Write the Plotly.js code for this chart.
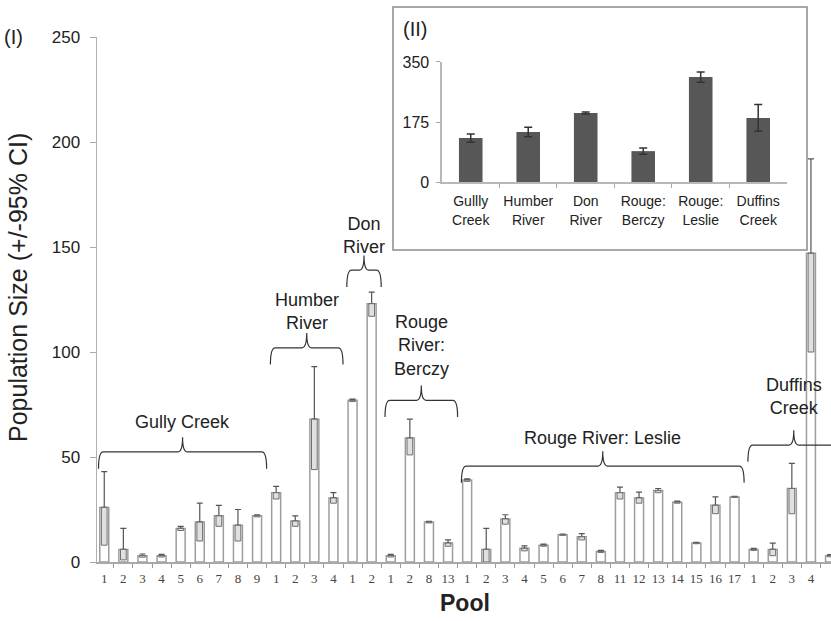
<!DOCTYPE html>
<html>
<head>
<meta charset="utf-8">
<script src="https://cdn.plot.ly/plotly-3.0.1.min.js"></script>
<style>html,body{margin:0;padding:0;background:#fff;}#chart{width:831px;height:621px;}</style>
</head>
<body>
<div id="chart"></div>
<script>
// ---- data ----
const poolLabels = ['1','2','3','4','5','6','7','8','9','1','2','3','4','1','2','1','2','8','13',
  '1','2','3','4','5','6','7','8','11','12','13','14','15','16','17','1','2','3','4','5'];
const groupNames = ['Gully Creek','Humber<br>River','Don<br>River','Rouge<br>River:<br>Berczy','Rouge River: Leslie','Duffins<br>Creek'];
const groupSizes = [9,4,2,4,15,5];
const means = [26,6,3,3,16,19,22,17.5,22, 33,19.5,68,30.5, 77,123, 3,59,19,9,
  39,6,20.5,6.5,8,13,12,5,33,30.5,34,28.5,9,27,31, 6,6,35,147,3];
const upperCI = [43,16,3.8,3.6,17,28,27,25,22.5, 36,22,93,33, 77.6,128.5, 3.6,68,19.4,10.5,
  39.6,16,22.5,7.7,8.5,13.3,13.5,5.5,35.7,33.3,35,29,9.3,31,31.3, 6.5,9,47,192,3.5];
const lowerCI = [8,1,2.3,2.4,15,10,17,10,21.5, 30,17,44,28, 76.4,117, 2.4,51,18.6,7.5,
  38.4,0,18,5.3,7.5,12.7,10.5,4.5,30,28,33,28,8.7,23,30.7, 5.5,3,23,100,2.5];

const insetSites = ['Gullly<br>Creek','Humber<br>River','Don<br>River','Rouge:<br>Berczy','Rouge:<br>Leslie','Duffins<br>Creek'];
const insetMeans = [128,146,201,90,306,187];
const insetErr = [12,14,3,9,15,39];

// ---- layout helpers (positions / styles) ----
const braceY = [52.4,102,139,77,45.7,55.7];     // horizontal line of each brace (data units)
const labelY = [66.7,119.5,155.5,102.9,59,78.6]; // label centres (data units)

const idx = poolLabels.map((_, i) => i);
const errUp = upperCI.map((u, i) => u - means[i]);
const boxH = means.map((m, i) => m - lowerCI[i]);

const traces = [
  {type:'bar', x: idx, y: means, width: 0.47,
   marker:{color:'#ffffff', line:{color:'#9d9d9d', width:1.5}},
   error_y:{type:'data', symmetric:false, array: errUp, arrayminus: means.map(()=>0),
            color:'#555', thickness:1.2, width:3},
   hoverinfo:'skip', showlegend:false},
  {type:'bar', x: idx, y: boxH, base: lowerCI, width: 0.3,
   marker:{color:'#e0e0e0', line:{color:'#6f6f6f', width:1}},
   hoverinfo:'skip', showlegend:false},
  {type:'bar', x: insetSites.map((_, i) => i), y: insetMeans, width: 0.41,
   xaxis:'x2', yaxis:'y2',
   marker:{color:'#575757', line:{width:0}},
   error_y:{type:'data', array: insetErr, color:'#333', thickness:1.5, width:4},
   hoverinfo:'skip', showlegend:false}
];

const shapes = [];
const annotations = [];
let start = 0;
groupSizes.forEach((n, g) => {
  const first = start, last = start + n - 1;
  const x0 = first - 0.3, x1 = last + 0.5, xm = (x0 + x1) / 2;
  const yh = braceY[g], ye = yh - 8, yt = yh + 7, r = 0.25;
  shapes.push({type:'path', xref:'x', yref:'y',
    path:`M ${x0},${ye} Q ${x0},${yh} ${x0+r},${yh} L ${xm-r},${yh} Q ${xm},${yh} ${xm},${yt} Q ${xm},${yh} ${xm+r},${yh} L ${x1-r},${yh} Q ${x1},${yh} ${x1},${ye}`,
    line:{color:'#333', width:1.2}});
  annotations.push({xref:'x', yref:'y', x: xm, y: labelY[g], text: groupNames[g],
    showarrow:false, xanchor:'center', yanchor:'middle',
    font:{family:'Liberation Sans, Arial, sans-serif', size:18, color:'#222'}});
  start += n;
});

// inset frame
shapes.push({type:'rect', xref:'paper', yref:'paper', x0:0.4033, x1:0.9673, y0:0.5943, y1:1.0571,
  line:{color:'#8c8c8c', width:1.5}, fillcolor:'#ffffff', layer:'below'});

annotations.push(
  {xref:'paper', yref:'paper', x:-0.1076, y:0.522, text:'Population Size (+/-95% CI)', textangle:-90,
   showarrow:false, xanchor:'center', yanchor:'middle',
   font:{family:'Liberation Sans, Arial, sans-serif', size:25, color:'#222'}},
  {xref:'paper', yref:'paper', x:0.501, y:-0.078, text:'<b>Pool</b>',
   showarrow:false, xanchor:'center', yanchor:'middle',
   font:{family:'Liberation Sans, Arial, sans-serif', size:23, color:'#222'}},
  {xref:'paper', yref:'paper', x:-0.1144, y:1.0, text:'(I)',
   showarrow:false, xanchor:'center', yanchor:'middle',
   font:{family:'Liberation Sans, Arial, sans-serif', size:20, color:'#222'}},
  {xref:'paper', yref:'paper', x:0.433, y:1.015, text:'(II)',
   showarrow:false, xanchor:'center', yanchor:'middle',
   font:{family:'Liberation Sans, Arial, sans-serif', size:20, color:'#222'}}
);

const layout = {
  width:831, height:621,
  margin:{l:97, r:0, t:37, b:59},
  paper_bgcolor:'#ffffff', plot_bgcolor:'rgba(0,0,0,0)',
  barmode:'overlay', showlegend:false,
  xaxis:{range:[-0.38, 38.05], tickmode:'array', tickvals: idx, ticktext: poolLabels,
    ticks:'', showgrid:false, zeroline:false, showline:true, linecolor:'#a8a8a8', linewidth:1.5,
    tickfont:{family:'Liberation Serif, Times New Roman, serif', size:13, color:'#444'},
    ticklabelstandoff:4,
    minor:{tickmode:'array', tickvals: idx.slice(0,-1).map(i => i + 0.5), ticks:'outside',
           ticklen:4, tickcolor:'#999', tickwidth:1, showgrid:false}},
  yaxis:{range:[0,250], tickmode:'array', tickvals:[0,50,100,150,200,250],
    ticks:'outside', ticklen:6, tickcolor:'#aaa', tickwidth:1,
    showgrid:false, zeroline:false, showline:true, linecolor:'#b0b0b0', linewidth:1.5,
    tickfont:{family:'Liberation Sans, Arial, sans-serif', size:17, color:'#222'},
    ticklabelstandoff:6},
  xaxis2:{domain:[0.470, 0.940], anchor:'y2', range:[-0.5, 5.5], tickmode:'array',
    tickvals: insetSites.map((_, i) => i), ticktext: insetSites, ticks:'',
    showgrid:false, zeroline:false, showline:true, linecolor:'#b8b8b8', linewidth:1.5,
    tickfont:{family:'Liberation Sans, Arial, sans-serif', size:14, color:'#222'},
    ticklabelstandoff:6,
    minor:{tickmode:'array', tickvals:[0.5,1.5,2.5,3.5,4.5], ticks:'outside', ticklen:4,
           tickcolor:'#aaa', showgrid:false}},
  yaxis2:{domain:[0.7238, 0.9524], anchor:'x2', range:[0,350], tickmode:'array',
    tickvals:[0,175,350], ticks:'outside', ticklen:4, tickcolor:'#aaa',
    showgrid:false, zeroline:false, showline:true, linecolor:'#b8b8b8', linewidth:1.5,
    tickfont:{family:'Liberation Sans, Arial, sans-serif', size:16, color:'#222'},
    ticklabelstandoff:4},
  shapes: shapes,
  annotations: annotations
};

Plotly.newPlot('chart', traces, layout, {staticPlot:true, displayModeBar:false});
</script>
</body>
</html>
